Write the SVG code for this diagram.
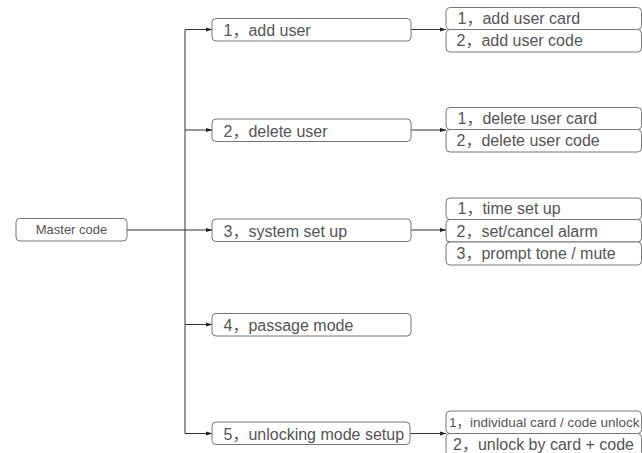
<svg xmlns="http://www.w3.org/2000/svg" width="642" height="453" viewBox="0 0 642 453">
<defs>
<marker id="arr" markerWidth="7" markerHeight="6" refX="6.5" refY="3" orient="auto" markerUnits="userSpaceOnUse">
<path d="M0,0.8 L7,3 L0,5.2 Z" fill="#222"/>
</marker>
<style>
.box{fill:#fff;stroke:#777;stroke-width:1}
.t{font-family:"Liberation Sans","Noto Sans CJK SC",Arial,sans-serif;font-size:16px;fill:#555}
.ts{font-family:"Liberation Sans","Noto Sans CJK SC",Arial,sans-serif;font-size:13px;fill:#555}
.c{fill:none;stroke:#333;stroke-width:1}
</style>
</defs>
<rect width="642" height="453" fill="#fff"/>
<g id="connectors">
<path class="c" d="M185,29.5 V433.5"/>
<path class="c" d="M185,29.5 H212" marker-end="url(#arr)"/>
<path class="c" d="M185,130 H212" marker-end="url(#arr)"/>
<path class="c" d="M127,230 H212" marker-end="url(#arr)"/>
<path class="c" d="M185,324.5 H212" marker-end="url(#arr)"/>
<path class="c" d="M185,433.5 H212" marker-end="url(#arr)"/>
<path class="c" d="M411,29.5 H446" marker-end="url(#arr)"/>
<path class="c" d="M411,130 H446" marker-end="url(#arr)"/>
<path class="c" d="M411,230 H446" marker-end="url(#arr)"/>
<path class="c" d="M410,433.5 H446" marker-end="url(#arr)"/>
</g>
<g id="master">
<rect class="box" x="16" y="218.5" width="111" height="22.5" rx="4"/>
<text class="ts" x="71.5" y="234" text-anchor="middle">Master code</text>
</g>
<g id="n1">
<rect class="box" x="212" y="18.5" width="199" height="22.5" rx="4"/>
<text class="t" x="223.5" y="36">1，add user</text>
</g>
<g id="n2">
<rect class="box" x="212" y="119" width="199" height="22.5" rx="4"/>
<text class="t" x="223.5" y="136.5">2，delete user</text>
</g>
<g id="n3">
<rect class="box" x="212" y="219" width="199" height="22.5" rx="4"/>
<text class="t" x="223.5" y="236.5">3，system set up</text>
</g>
<g id="n4">
<rect class="box" x="212" y="313.5" width="199" height="22.5" rx="4"/>
<text class="t" x="223.5" y="331">4，passage mode</text>
</g>
<g id="n5">
<rect class="box" x="212" y="422" width="198" height="22.5" rx="4"/>
<text class="t" x="223.5" y="439.5">5，unlocking mode setup</text>
</g>
<g id="s1a">
<rect class="box" x="446" y="7.5" width="195.5" height="22" rx="4"/>
<text class="t" x="457.5" y="24">1，add user card</text>
</g>
<g id="s1b">
<rect class="box" x="446" y="29.5" width="195.5" height="22.5" rx="4"/>
<text class="t" x="456.5" y="46">2，add user code</text>
</g>
<g id="s2a">
<rect class="box" x="446" y="107.5" width="195.5" height="22" rx="4"/>
<text class="t" x="457.5" y="124">1，delete user card</text>
</g>
<g id="s2b">
<rect class="box" x="446" y="129.5" width="195.5" height="22.5" rx="4"/>
<text class="t" x="456.5" y="146">2，delete user code</text>
</g>
<g id="s3a">
<rect class="box" x="446" y="198" width="195.5" height="21.5" rx="4"/>
<text class="t" x="457.5" y="214">1，time set up</text>
</g>
<g id="s3b">
<rect class="box" x="446" y="219.5" width="195.5" height="22.5" rx="4"/>
<text class="t" x="456.5" y="236.5">2，set/cancel alarm</text>
</g>
<g id="s3c">
<rect class="box" x="446" y="242" width="195.5" height="23" rx="4"/>
<text class="t" x="456.5" y="259">3，prompt tone / mute</text>
</g>
<g id="s5a">
<rect class="box" x="446" y="411" width="195.5" height="22.5" rx="4"/>
<text class="ts" x="449" y="427" style="font-size:13.5px">1，individual card / code unlock</text>
</g>
<g id="s5b">
<rect class="box" x="446" y="433.5" width="195.5" height="23" rx="4"/>
<text class="t" x="453" y="450">2，unlock by card + code</text>
</g>
</svg>
